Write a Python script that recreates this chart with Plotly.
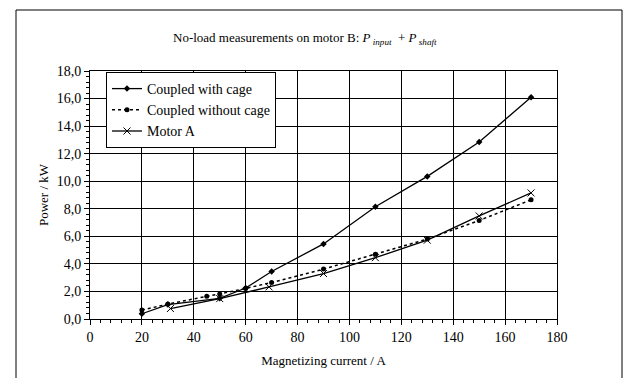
import plotly.graph_objects as go

# Data
cage_x = [20, 30, 50, 60, 70, 90, 110, 130, 150, 170]
cage_y = [0.38, 1.05, 1.50, 2.25, 3.45, 5.45, 8.15, 10.35, 12.85, 16.1]

nocage_x = [20, 30, 45, 50, 60, 70, 90, 110, 130, 150, 170]
nocage_y = [0.65, 1.08, 1.65, 1.82, 2.22, 2.65, 3.62, 4.70, 5.80, 7.15, 8.65]

motorA_x = [31, 50, 69, 90, 110, 130, 150, 170]
motorA_y = [0.76, 1.48, 2.33, 3.30, 4.45, 5.72, 7.48, 9.15]

series_names = ["Coupled with cage", "Coupled without cage", "Motor A"]

FONT = "Liberation Serif"

fig = go.Figure()
fig.add_trace(go.Scatter(
    x=cage_x, y=cage_y, name=series_names[0], mode="lines+markers",
    line=dict(color="black", width=1.3),
    marker=dict(symbol="diamond", size=5, color="black")))
fig.add_trace(go.Scatter(
    x=nocage_x, y=nocage_y, name=series_names[1], mode="lines+markers",
    line=dict(color="black", width=1.5, dash="3px,3px"),
    marker=dict(symbol="circle", size=5, color="black")))
fig.add_trace(go.Scatter(
    x=motorA_x, y=motorA_y, name=series_names[2], mode="lines+markers",
    line=dict(color="black", width=1.3),
    marker=dict(symbol="x-thin", size=7, color="black",
                line=dict(color="black", width=1))))

L, R, T, B = 90, 557, 71, 319
W, H = 630, 378
pw, ph = R - L, B - T

def px(xp):
    return (xp - L) / pw

def py(yp):
    return (B - yp) / ph

fig.update_layout(
    width=W, height=H,
    margin=dict(l=L, r=W - R, t=T, b=H - B),
    paper_bgcolor="white", plot_bgcolor="white",
    font=dict(family=FONT, size=13, color="black"),
    separators=",.",
    showlegend=True,
    legend=dict(x=px(106), y=py(72), xanchor="left", yanchor="top",
                bgcolor="white", bordercolor="black", borderwidth=1,
                font=dict(family=FONT, size=14, color="black"),
                itemwidth=30, tracegroupgap=0),
    xaxis=dict(range=[0, 180], dtick=20, tick0=0,
               showgrid=True, gridcolor="black", gridwidth=1,
               showline=True, linecolor="black", linewidth=1, mirror=True,
               ticks="outside", ticklen=5, tickcolor="black",
               minor=dict(dtick=4, ticks="outside", ticklen=3, tickcolor="black", showgrid=False),
               zeroline=False, tickfont=dict(family=FONT, size=14),
               title=dict(text="Magnetizing current / A", font=dict(family=FONT, size=13), standoff=12)),
    yaxis=dict(range=[0, 18], dtick=2, tick0=0, tickformat=".1f",
               showgrid=True, gridcolor="black", gridwidth=1,
               showline=True, linecolor="black", linewidth=1, mirror=True,
               ticks="outside", ticklen=5, tickcolor="black",
               minor=dict(dtick=0.4, ticks="outside", ticklen=3, tickcolor="black", showgrid=False),
               zeroline=False, tickfont=dict(family=FONT, size=14),
               title=dict(text="Power / kW", font=dict(family=FONT, size=13), standoff=5)),
)

fig.add_annotation(
    xref="paper", yref="paper", x=px(305), y=py(38), xanchor="center", yanchor="middle",
    showarrow=False, font=dict(family=FONT, size=13, color="black"),
    text="No-load measurements on motor B: <i>P</i><sub><i> input</i></sub>  + <i>P</i><sub><i> shaft</i></sub>")

# outer chart frame
fig.add_shape(type="rect", xref="paper", yref="paper",
              x0=px(16), x1=px(622), y0=py(390), y1=py(10),
              line=dict(color="black", width=1), layer="below")

fig.write_html("out.html")
